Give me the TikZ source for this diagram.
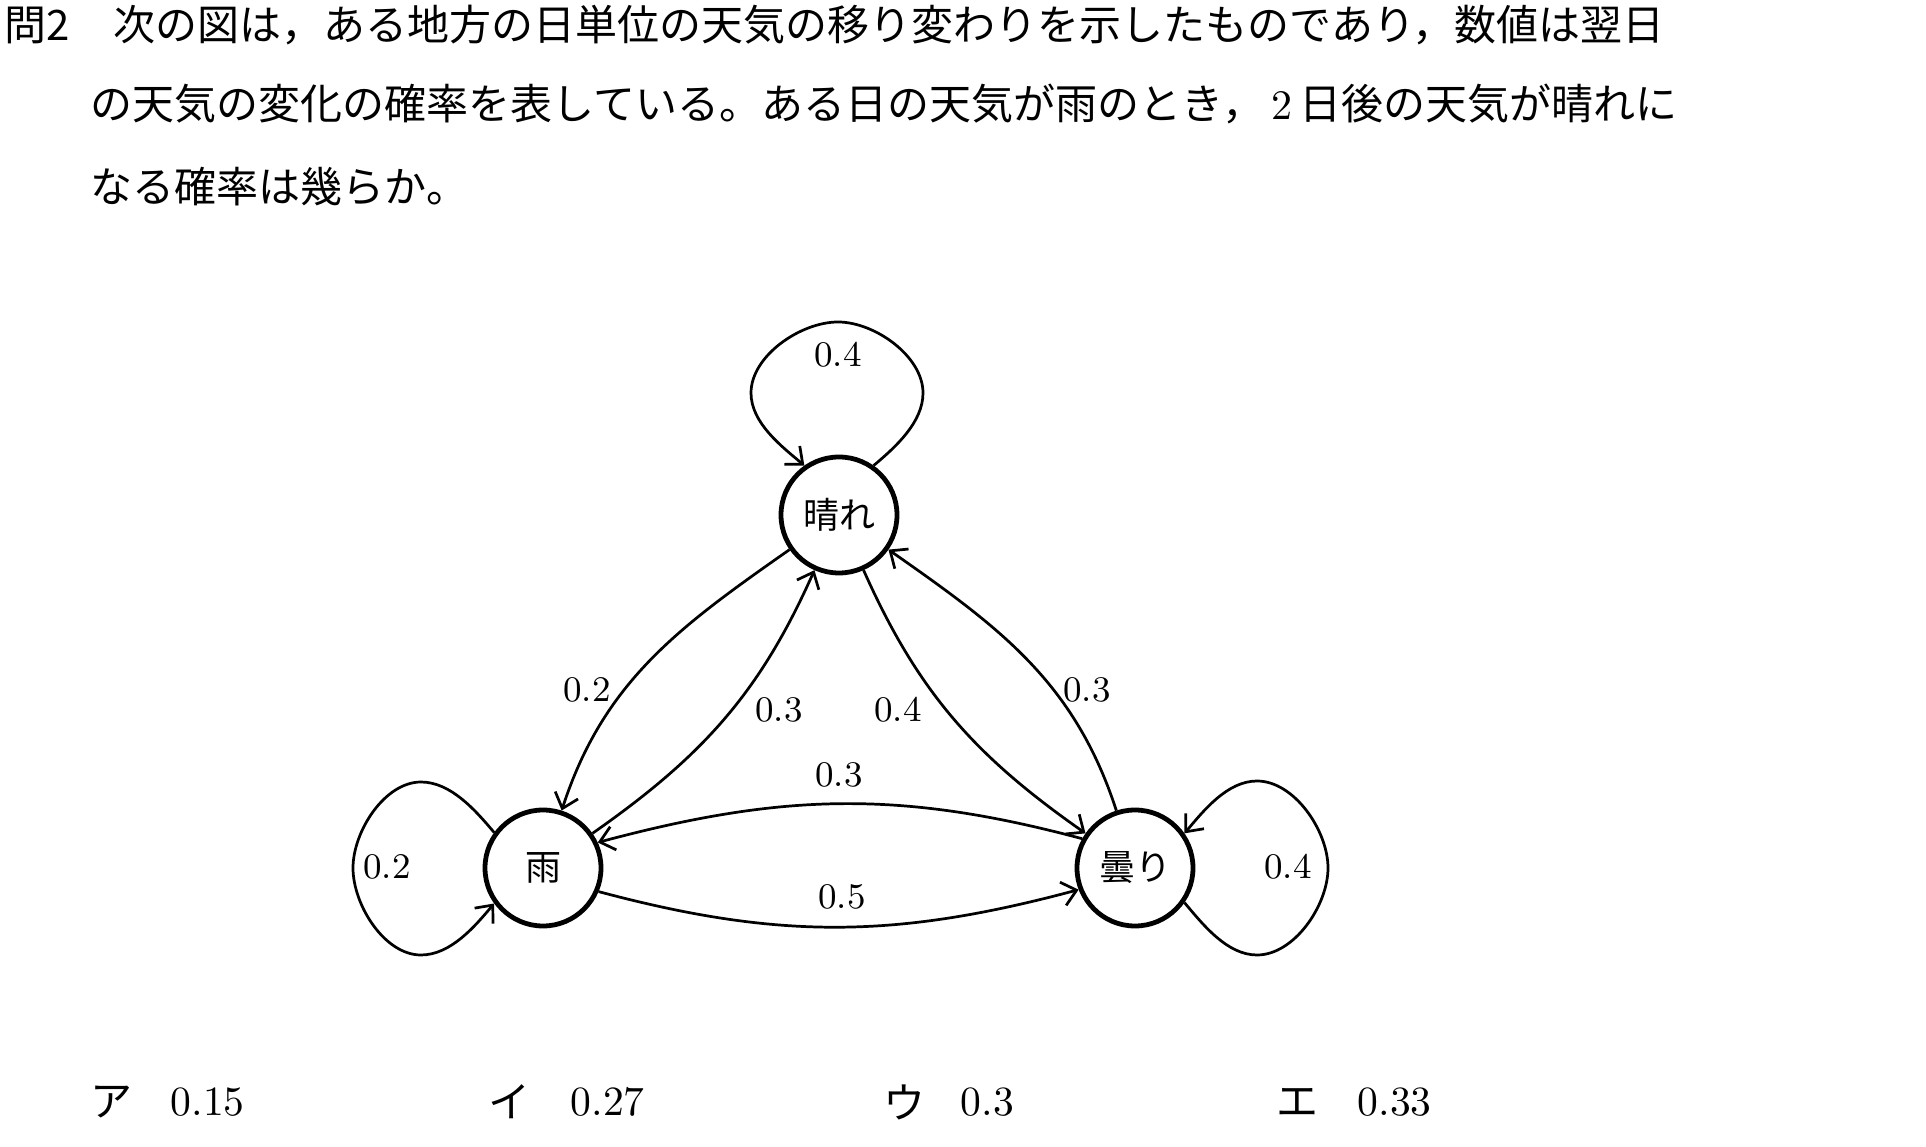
\documentclass[tikz,border=0pt]{standalone}
\usepackage{fontspec}
\newfontfamily\jp{Noto Sans CJK JP}
\usetikzlibrary{arrows.meta}

\begin{document}
\begin{tikzpicture}[x=.25pt,y=.25pt,
	>={Straight Barb[length=3.5pt,width=6pt]},
	state/.style={draw,circle,line width=1.2pt,minimum size=29pt,inner sep=0pt,font=\jp\fontsize{9}{9}\selectfont},
	prob/.style={inner sep=0pt,font=\fontsize{9}{9}\selectfont},
	trans/.style={->,line width=.68pt},
	selfloop/.style={trans,looseness=.85},
	line/.style={anchor=west,inner sep=0pt,font=\jp\fontsize{10.5}{10.5}\selectfont},
	choice/.style={anchor=west,inner sep=0pt,font=\fontsize{10.4}{10.4}\selectfont}]
\useasboundingbox (0,0) rectangle (1926,1146);

% question
\node[line] (q0) at (4,1121) {問2};
\node[line] (q1) at (113,1121) {次の図は，ある地方の日単位の天気の移り変わりを示したものであり，数値は翌日};
\node[line] (q2) at (90,1042) {の天気の変化の確率を表している。ある日の天気が雨のとき，{\rmfamily\,2\,}日後の天気が晴れに};
\node[line] (q3) at (90,959) {なる確率は幾らか。};

% states
\node[state] (hare) at (839,631) {晴れ};
\node[state] (ame) at (543,278) {雨};
\node[state] (kumori) at (1135,278) {曇り};

% self loops
\draw[selfloop] (hare.55) to[out=40,in=-90] (923,753) to[out=90,in=0] (838,824)
	to[out=180,in=90] (751,753) to[out=-90,in=140] (hare.125);
\draw[selfloop] (ame.144) to[out=130,in=0] (421,364) to[out=180,in=90] (353,278)
	to[out=-90,in=180] (421,191) to[out=0,in=230] (ame.216);
\draw[selfloop] (kumori.-35) to[out=-50,in=180] (1257,191) to[out=0,in=-90] (1328,278)
	to[out=90,in=0] (1257,365) to[out=180,in=50] (kumori.35);

% transitions
\draw[trans] (hare) to[out=215,in=72] (ame);
\draw[trans] (ame) to[out=35,in=246] (hare);
\draw[trans] (hare) to[out=294,in=145] (kumori);
\draw[trans] (kumori) to[out=108,in=325] (hare);
\draw[trans] (kumori.151) to[out=165,in=15] (ame.25);
\draw[trans] (ame.-23) to[out=-15,in=195] (kumori.201);

% probabilities
\node[prob] (pHH) at (838,791) {0.4};
\node[prob] (pAA) at (387,279) {0.2};
\node[prob] (pKK) at (1288,279) {0.4};
\node[prob] (pHA) at (587,456) {0.2};
\node[prob] (pAH) at (779,436) {0.3};
\node[prob] (pHK) at (898,436) {0.4};
\node[prob] (pKH) at (1087,456) {0.3};
\node[prob] (pKA) at (839,371) {0.3};
\node[prob] (pAK) at (842,249) {0.5};

% choices
\node[line] (c1) at (90,44) {ア};
\node[choice] (v1) at (170,44) {0.15};
\node[line] (c2) at (488,44) {イ};
\node[choice] (v2) at (570,44) {0.27};
\node[line] (c3) at (883,44) {ウ};
\node[choice] (v3) at (960,44) {0.3};
\node[line] (c4) at (1276,44) {エ};
\node[choice] (v4) at (1357,44) {0.33};
\end{tikzpicture}
\end{document}
